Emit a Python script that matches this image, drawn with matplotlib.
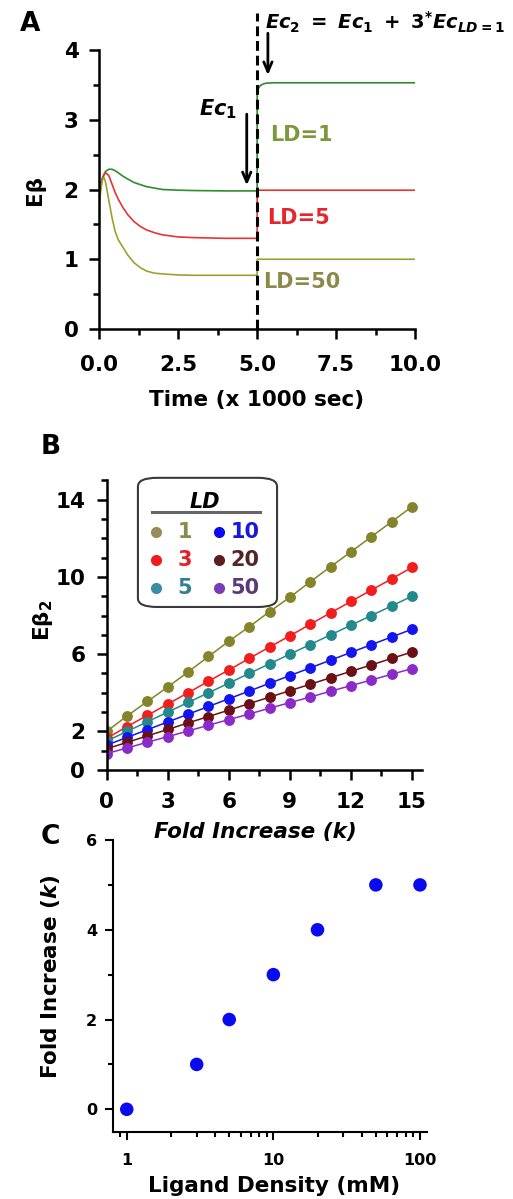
import matplotlib
matplotlib.use("Agg")
import matplotlib.pyplot as plt
from matplotlib.patches import FancyBboxPatch
from matplotlib.lines import Line2D
from matplotlib.ticker import FixedLocator, FixedFormatter, FormatStrFormatter, NullFormatter

plt.rcParams['font.family'] = ['DejaVu Sans']
plt.rcParams['font.weight'] = 'bold'
plt.rcParams['axes.labelweight'] = 'bold'
plt.rcParams['mathtext.fontset'] = 'custom'
plt.rcParams['mathtext.rm'] = 'DejaVu Sans:bold'
plt.rcParams['mathtext.bf'] = 'DejaVu Sans:bold'
plt.rcParams['mathtext.it'] = 'DejaVu Sans:bold:italic'

# ---------------- Panel A data ----------------
time_a = [0, 0.05, 0.1, 0.15, 0.2, 0.3, 0.4, 0.5, 0.6, 0.75, 0.9, 1.1, 1.3, 1.5, 1.75,
          2.0, 2.5, 3.0, 4.0, 5.0, 5.0, 5.05, 5.1, 5.2, 5.3, 5.5, 6.0, 7.0, 8.0, 9.0, 10.0]
eb_ld1 = [2.0, 2.1, 2.17, 2.22, 2.26, 2.29, 2.29, 2.27, 2.24, 2.19, 2.15, 2.1, 2.07, 2.04, 2.02,
          2.0, 1.99, 1.985, 1.98, 1.98, 3.40, 3.46, 3.49, 3.515, 3.525, 3.53, 3.53, 3.53, 3.53, 3.53, 3.53]
eb_ld5 = [1.9, 2.05, 2.15, 2.21, 2.24, 2.2, 2.08, 1.96, 1.86, 1.74, 1.64, 1.54, 1.47, 1.42, 1.38,
          1.35, 1.32, 1.31, 1.3, 1.3, 1.99, 1.99, 1.99, 1.99, 1.99, 1.99, 1.99, 1.99, 1.99, 1.99, 1.99]
eb_ld50 = [1.8, 2.0, 2.14, 2.17, 2.1, 1.85, 1.6, 1.4, 1.28, 1.17, 1.06, 0.95, 0.88, 0.83, 0.8,
           0.79, 0.775, 0.77, 0.77, 0.77, 1.0, 1.0, 1.0, 1.0, 1.0, 1.0, 1.0, 1.0, 1.0, 1.0, 1.0]
a_labels = ['LD=1', 'LD=5', 'LD=50']

# ---------------- Panel B data ----------------
fold_k = list(range(16))
ld_values = ['1', '3', '5', '10', '20', '50']
eb2_ld1 = [2.0, 2.8, 3.55, 4.3, 5.08, 5.88, 6.67, 7.42, 8.2, 8.95, 9.75, 10.53, 11.3, 12.08, 12.86, 13.64]
eb2_ld3 = [1.64, 2.25, 2.83, 3.42, 4.0, 4.6, 5.18, 5.78, 6.37, 6.95, 7.55, 8.14, 8.73, 9.32, 9.9, 10.5]
eb2_ld5 = [1.5, 2.0, 2.5, 3.0, 3.5, 4.0, 4.5, 5.0, 5.5, 6.0, 6.5, 7.0, 7.5, 8.0, 8.5, 9.0]
eb2_ld10 = [1.29, 1.69, 2.09, 2.49, 2.89, 3.29, 3.69, 4.09, 4.49, 4.89, 5.29, 5.69, 6.09, 6.49, 6.89, 7.29]
eb2_ld20 = [1.1, 1.43, 1.77, 2.1, 2.44, 2.77, 3.1, 3.44, 3.77, 4.11, 4.44, 4.78, 5.11, 5.44, 5.78, 6.11]
eb2_ld50 = [0.85, 1.14, 1.44, 1.73, 2.02, 2.32, 2.61, 2.9, 3.2, 3.49, 3.78, 4.08, 4.37, 4.66, 4.96, 5.25]

# ---------------- Panel C data ----------------
ligand_density = [1, 3, 5, 10, 20, 50, 100]
fold_increase = [0, 1, 2, 3, 4, 5, 5]

fig = plt.figure(figsize=(5.13, 11.99), dpi=100)

def style_axes(ax, lw=1.8):
    for s in ['top', 'right']:
        ax.spines[s].set_visible(False)
    for s in ['left', 'bottom']:
        ax.spines[s].set_linewidth(lw)
    ax.tick_params(which='major', length=7, width=lw, direction='out')
    ax.tick_params(which='minor', length=4, width=lw, direction='out')

# ---------------- Panel A ----------------
axA = fig.add_axes([0.1936, 0.7256, 0.6154, 0.2327])
colsA = ['#2f8c2f', '#e83434', '#a0a030']
for ys, c in zip([eb_ld1, eb_ld5, eb_ld50], colsA):
    axA.plot(time_a, ys, color=c, lw=1.2)
axA.set_xlim(0, 10)
axA.set_ylim(0, 4)
style_axes(axA)
axA.xaxis.set_major_locator(FixedLocator([0, 2.5, 5, 7.5, 10]))
axA.xaxis.set_minor_locator(FixedLocator([1.25, 3.75, 6.25, 8.75]))
axA.xaxis.set_major_formatter(FormatStrFormatter('%.1f'))
axA.yaxis.set_major_locator(FixedLocator([0, 1, 2, 3, 4]))
axA.yaxis.set_minor_locator(FixedLocator([0.5, 1.5, 2.5, 3.5]))
axA.tick_params(labelsize=15.5)
axA.tick_params(axis='x', which='major', pad=12)
axA.tick_params(axis='y', which='major', pad=8)
axA.plot([5, 5], [0, 4.53], color='black', lw=2.2, ls=(0, (3.2, 1.6)), clip_on=False, zorder=5)
axA.annotate('', xy=(4.67, 2.02), xytext=(4.67, 3.12),
             arrowprops=dict(arrowstyle='->,head_length=0.7,head_width=0.3', lw=2, color='black'))
axA.annotate('', xy=(5.34, 3.6), xytext=(5.34, 4.28), annotation_clip=False,
             arrowprops=dict(arrowstyle='->,head_length=0.7,head_width=0.3', lw=2, color='black'))
axA.text(4.35, 3.15, r'$Ec_1$', ha='right', va='center', fontsize=15)
axA.text(5.25, 4.40, r'$\mathit{Ec_2\ =\ Ec_1\ +\ 3^{*}Ec_{LD=1}}$', ha='left', va='center',
         fontsize=14, clip_on=False)
lab_cols = ['#7a983c', '#e5262e', '#8c8a48']
axA.text(5.40, 2.78, a_labels[0], color=lab_cols[0], fontsize=15, ha='left', va='center')
axA.text(5.30, 1.59, a_labels[1], color=lab_cols[1], fontsize=15, ha='left', va='center')
axA.text(5.19, 0.68, a_labels[2], color=lab_cols[2], fontsize=15, ha='left', va='center')
fig.text(0.501, 0.6664, 'Time (x 1000 sec)', ha='center', va='center', fontsize=15.5)
fig.text(0.068, 0.8415, 'Eβ', ha='center', va='center', rotation=90, fontsize=15.5)
fig.text(0.058, 0.980, 'A', ha='center', va='center', fontsize=19)

# ---------------- Panel B ----------------
axB = fig.add_axes([0.208, 0.3578, 0.6149, 0.2415])
colsB_line = ['#84842a', '#f21d1d', '#23898a', '#1414f0', '#6b1014', '#8a2bc9']
colsB_leg = ['#948c5c', '#f01c1c', '#3a8ca4', '#0a0af5', '#5a2020', '#7a3cb4']
colsB_txt = ['#8a8a50', '#e0202a', '#357e90', '#1818d8', '#552525', '#5a3a78']
for ys, c in zip([eb2_ld1, eb2_ld3, eb2_ld5, eb2_ld10, eb2_ld20, eb2_ld50], colsB_line):
    axB.plot(fold_k, ys, color=c, lw=1.1, marker='o', ms=6.8, mec=c, mfc=c)
axB.set_xlim(0, 15.5)
axB.set_ylim(0, 15)
style_axes(axB)
axB.xaxis.set_major_locator(FixedLocator([0, 3, 6, 9, 12, 15]))
axB.xaxis.set_minor_locator(FixedLocator([1.5, 4.5, 7.5, 10.5, 13.5]))
axB.yaxis.set_major_locator(FixedLocator([0, 2, 6, 10, 14]))
axB.yaxis.set_minor_locator(FixedLocator(list(range(16))))
axB.tick_params(labelsize=15.5)
axB.tick_params(axis='x', which='major', pad=8.5)
axB.tick_params(axis='y', which='major', pad=8.5)
# manual legend
box = FancyBboxPatch((0.099, 0.563), 0.441, 0.446, transform=axB.transAxes,
                     boxstyle='round,pad=0,rounding_size=0.06', fc='white', ec='#3a3a3a',
                     lw=1.5, clip_on=False, zorder=6, mutation_aspect=0.5)
axB.add_patch(box)
axB.text(0.312, 0.926, 'LD', transform=axB.transAxes, ha='center', va='center',
         fontsize=15, fontstyle='italic', zorder=7)
axB.add_line(Line2D([0.144, 0.486], [0.891, 0.891], transform=axB.transAxes,
                    color='#666666', lw=2.2, zorder=7, clip_on=False))
row_y = [0.822, 0.725, 0.629]
for i, (lab, mc, tc) in enumerate(zip(ld_values, colsB_leg, colsB_txt)):
    col, row = divmod(i, 3)
    yy = row_y[row]
    if col == 0:
        axB.plot([0.156], [yy], 'o', ms=7, color=mc, transform=axB.transAxes, zorder=7, clip_on=False)
        axB.text(0.248, yy, lab, color=tc, fontsize=15, ha='center', va='center',
                 transform=axB.transAxes, zorder=7)
    else:
        axB.plot([0.357], [yy], 'o', ms=7, color=mc, transform=axB.transAxes, zorder=7, clip_on=False)
        axB.text(0.392, yy, lab, color=tc, fontsize=15, ha='left', va='center',
                 transform=axB.transAxes, zorder=7)
fig.text(0.497, 0.306, 'Fold Increase (k)', ha='center', va='center', fontsize=15.5,
         fontstyle='italic')
fig.text(0.084, 0.483, 'Eβ$_{2}$', ha='center', va='center', rotation=90, fontsize=15.5)
fig.text(0.099, 0.627, 'B', ha='center', va='center', fontsize=19)

# ---------------- Panel C ----------------
axC = fig.add_axes([0.2203, 0.0561, 0.612, 0.2433])
axC.scatter(ligand_density, fold_increase, s=95, color='#0a0af0', zorder=3, edgecolors='none')
axC.set_xscale('log')
axC.set_xlim(0.806, 111.6)
axC.set_ylim(-0.5, 6)
style_axes(axC, lw=1.5)
axC.yaxis.set_major_locator(FixedLocator([0, 2, 4, 6]))
axC.yaxis.set_minor_locator(FixedLocator([1, 3, 5]))
axC.xaxis.set_major_locator(FixedLocator([1, 10, 100]))
axC.xaxis.set_major_formatter(FixedFormatter(['1', '10', '100']))
minors = [0.9] + [m * d for d in (1, 10) for m in range(2, 10)]
axC.xaxis.set_minor_locator(FixedLocator(minors))
axC.xaxis.set_minor_formatter(NullFormatter())
axC.tick_params(which='major', length=6)
axC.tick_params(which='minor', length=3.5)
axC.tick_params(labelsize=11.5)
axC.tick_params(axis='x', which='major', pad=9.5)
axC.tick_params(axis='y', which='major', pad=5.5)
fig.text(0.534, 0.011, 'Ligand Density (mM)', ha='center', va='center', fontsize=15.5)
fig.text(0.0975, 0.185, r'Fold Increase ($\mathit{k}$)', ha='center', va='center',
         rotation=90, fontsize=15.5)
fig.text(0.099, 0.302, 'C', ha='center', va='center', fontsize=19)

fig.savefig('out.png', dpi=100)
